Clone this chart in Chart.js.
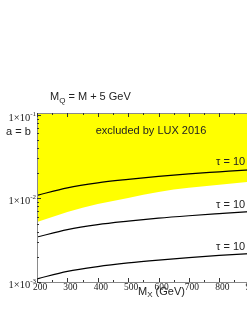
<!DOCTYPE html>
<html>
<head>
<meta charset="utf-8">
<script src="https://cdn.jsdelivr.net/npm/chart.js@4.4.1/dist/chart.umd.min.js"></script>
<style>
  html, body { margin: 0; padding: 0; background: #fff; overflow: hidden; }
  #wrap { width: 247px; height: 319px; overflow: hidden; }
</style>
</head>
<body>
<div id="wrap"><canvas id="chart" width="292" height="319"></canvas></div>
<script>
// masses (GeV)
const massX = [200, 300, 400, 500, 600, 700, 800, 900, 1000];
// lower edge of the LUX 2016 excluded region
const luxBound = [0.00523, 0.00689, 0.00859, 0.01014, 0.01196, 0.01336, 0.01451, 0.01577, 0.01713];
// coupling curves for three lifetimes
const tauHigh = [0.01086, 0.01337, 0.01534, 0.01689, 0.01835, 0.01965, 0.02077, 0.02194, 0.02287];
const tauMid = [0.00345, 0.00423, 0.00485, 0.00534, 0.0058, 0.0062, 0.00657, 0.00694, 0.00723];
const tauLow = [0.00109, 0.00134, 0.00153, 0.00169, 0.00183, 0.00196, 0.00208, 0.00219, 0.00229];

const xMajor = [200, 300, 400, 500, 600, 700, 800, 900, 1000];
const yMajor = [0.001, 0.01, 0.1];
const yMajorLabels = ['-3', '-2', '-1'];
const tauLabels = ['τ = 10', 'τ = 10', 'τ = 10'];

const toPts = arr => arr.map((v, i) => ({ x: massX[i], y: v }));

const serif = '"Liberation Serif", "DejaVu Serif", serif';
const sans = '"Liberation Sans", Arial, sans-serif';

// frame, inward ticks and all the text
const decor = {
    id: 'decor',
    afterDatasetsDraw(chart) {
        const ctx = chart.ctx;
        const a = chart.chartArea;
        const xs = chart.scales.x, ys = chart.scales.y;
        ctx.save();

        // frame
        ctx.strokeStyle = '#8a8a8a';
        ctx.lineWidth = 1;
        ctx.strokeRect(Math.round(a.left) + 0.5, Math.round(a.top) + 0.5,
            Math.round(a.right - a.left), Math.round(a.bottom - a.top));

        // x ticks top and bottom
        ctx.strokeStyle = '#333';
        for (let v = 200; v <= 1000; v += 50) {
            const px = Math.round(xs.getPixelForValue(v)) + 0.5;
            const len = v % 100 === 0 ? 4 : 2;
            ctx.beginPath();
            ctx.moveTo(px, a.bottom); ctx.lineTo(px, a.bottom - len);
            ctx.moveTo(px, a.top); ctx.lineTo(px, a.top + len);
            ctx.stroke();
        }
        // y ticks on left, log minor ticks
        yMajor.forEach(dec => {
            for (let m = 1; m <= 9; m++) {
                const v = dec * m;
                if (v > ys.max) break;
                const py = Math.round(ys.getPixelForValue(v)) + 0.5;
                const len = m === 1 ? 4 : 2;
                ctx.beginPath();
                ctx.moveTo(a.left, py); ctx.lineTo(a.left + len, py);
                ctx.moveTo(a.right, py); ctx.lineTo(a.right - len, py);
                ctx.stroke();
            }
        });

        // x tick labels
        ctx.fillStyle = '#222';
        ctx.font = '9.5px ' + serif;
        ctx.textAlign = 'center';
        ctx.textBaseline = 'middle';
        xMajor.forEach(v => {
            ctx.fillText(String(v), xs.getPixelForValue(v) + 3, a.bottom + 5);
        });

        // y tick labels 1x10^n
        yMajor.forEach((v, i) => {
            const py = ys.getPixelForValue(v);
            ctx.font = '7px ' + serif;
            ctx.textAlign = 'right';
            ctx.textBaseline = 'middle';
            const supW = ctx.measureText(yMajorLabels[i]).width;
            ctx.fillText(yMajorLabels[i], a.left - 1, py - 1);
            ctx.font = '10.5px ' + serif;
            ctx.fillText('1×10', a.left - 1 - supW, py + 3);
        });

        // axis title M_X (GeV)
        ctx.textAlign = 'left';
        ctx.textBaseline = 'middle';
        ctx.font = '11px ' + sans;
        let tx = 138;
        ctx.fillText('M', tx, 292);
        tx += ctx.measureText('M').width;
        ctx.font = '8px ' + sans;
        ctx.fillText('X', tx, 295);
        tx += ctx.measureText('X').width;
        ctx.font = '11px ' + sans;
        ctx.fillText(' (GeV)', tx, 292);

        // header M_Q = M + 5 GeV
        tx = 50;
        ctx.fillText('M', tx, 97);
        tx += ctx.measureText('M').width;
        ctx.font = '8px ' + sans;
        ctx.fillText('Q', tx, 101);
        tx += ctx.measureText('Q').width;
        ctx.font = '11px ' + sans;
        ctx.fillText(' = M + 5 GeV', tx, 97);

        ctx.fillText('a = b', 6, 132);

        ctx.textAlign = 'center';
        ctx.fillText('excluded by LUX 2016', 151, 131);

        // lifetime labels
        ctx.textAlign = 'left';
        const tauY = [162, 205, 247];
        tauLabels.forEach((t, i) => {
            ctx.font = '11px ' + sans;
            ctx.fillText(t, 216, tauY[i]);
        });

        ctx.restore();
    }
};

const lineStyle = {
    borderColor: '#000',
    borderWidth: 1.2,
    pointRadius: 0,
    fill: false,
    cubicInterpolationMode: 'monotone',
    order: 0
};

new Chart(document.getElementById('chart'), {
    type: 'line',
    data: {
        datasets: [
            {
                data: toPts(luxBound),
                borderWidth: 0,
                borderColor: 'rgba(0,0,0,0)',
                backgroundColor: '#ffff00',
                pointRadius: 0,
                fill: 'end',
                cubicInterpolationMode: 'monotone',
                order: 10
            },
            { ...lineStyle, data: toPts(tauHigh) },
            { ...lineStyle, data: toPts(tauMid) },
            { ...lineStyle, data: toPts(tauLow) }
        ]
    },
    options: {
        responsive: false,
        animation: false,
        layout: { padding: { left: 37, top: 113, right: 12, bottom: 37 } },
        plugins: { legend: { display: false }, tooltip: { enabled: false } },
        scales: {
            x: { type: 'linear', min: 200, max: 1000, display: false },
            y: { type: 'logarithmic', min: 0.001, max: 0.105, display: false }
        }
    },
    plugins: [decor]
});
</script>
</body>
</html>
